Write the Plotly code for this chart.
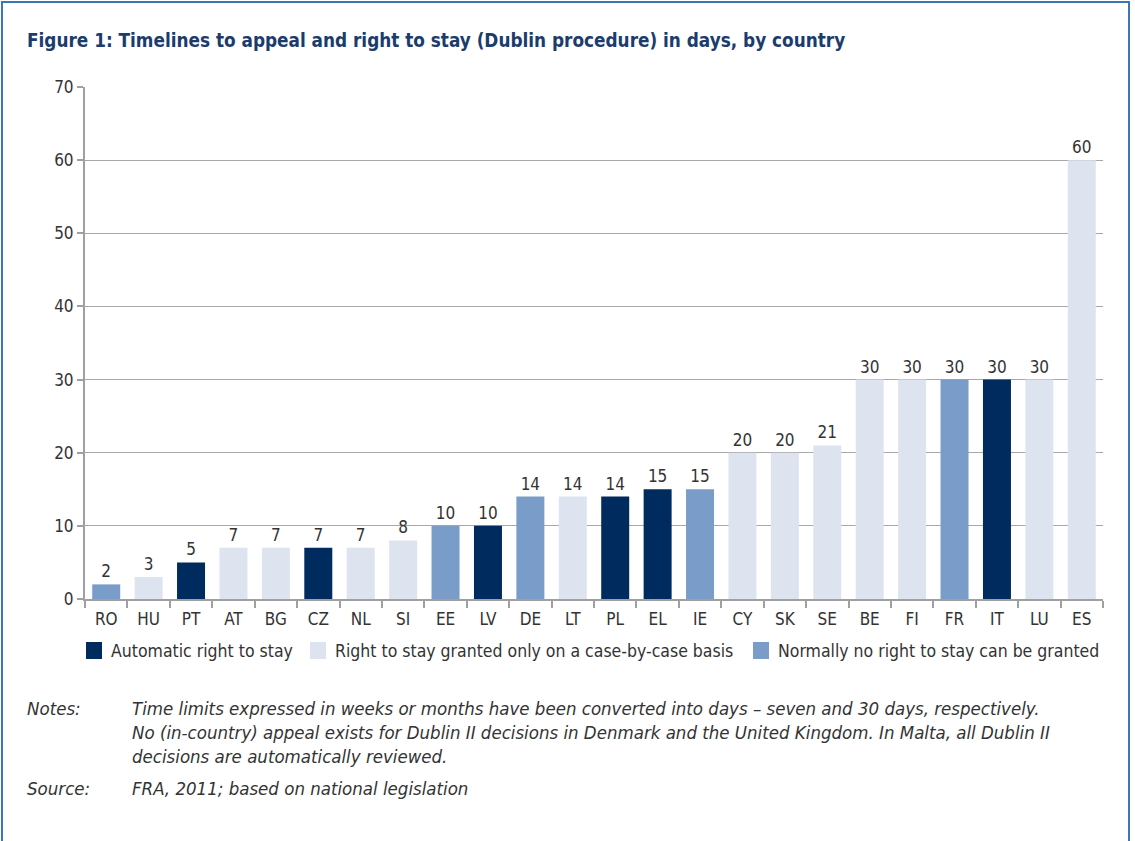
import plotly.graph_objects as go

countries = ["RO", "HU", "PT", "AT", "BG", "CZ", "NL", "SI", "EE", "LV", "DE", "LT",
             "PL", "EL", "IE", "CY", "SK", "SE", "BE", "FI", "FR", "IT", "LU", "ES"]
days = [2, 3, 5, 7, 7, 7, 7, 8, 10, 10, 14, 14, 14, 15, 15, 20, 20, 21, 30, 30, 30, 30, 30, 60]
group = ["N", "C", "A", "C", "C", "A", "C", "C", "N", "A", "N", "C",
         "A", "A", "N", "C", "C", "C", "C", "C", "N", "A", "C", "C"]

series_keys = ["A", "C", "N"]
series_names = {
    "A": "Automatic right to stay",
    "C": "Right to stay granted only on a case-by-case basis",
    "N": "Normally no right to stay can be granted",
}
series_colors = {"A": "#002b5f", "C": "#dde4f0", "N": "#7a9cc9"}

FONT = "Liberation Sans Narrow, DejaVu Sans Condensed, Liberation Sans, sans-serif"
TXT = "#333333"

fig = go.Figure()
for key in series_keys:
    xs = [c for c, g in zip(countries, group) if g == key]
    ys = [d for d, g in zip(days, group) if g == key]
    fig.add_trace(go.Bar(
        x=xs, y=ys, name=series_names[key],
        marker=dict(color=series_colors[key], line=dict(width=0)),
        text=[str(v) for v in ys], textposition="outside",
        textfont=dict(size=17, color=TXT, family=FONT),
        cliponaxis=False, showlegend=False,
    ))

# pixel helpers for placing things outside the plot area
L, R, T, B = 85, 32, 87, 242
W, H = 1135, 841
pw, ph = W - L - R, H - T - B
def px(x):
    return (x - L) / pw
def py(y):
    return (H - B - y) / ph

fig.update_layout(
    width=W, height=H,
    margin=dict(l=L, r=R, t=T, b=B),
    paper_bgcolor="white", plot_bgcolor="white",
    barmode="overlay", bargap=0.34,
    font=dict(family=FONT, size=17, color=TXT),
    showlegend=False,
    xaxis=dict(categoryorder="array", categoryarray=countries, tickson="boundaries",
               showline=True, linecolor="#a0a0a0", linewidth=2,
               ticks="outside", ticklen=7, tickcolor="#a0a0a0", tickwidth=2,
               ticklabelstandoff=4,
               tickfont=dict(size=17, color=TXT, family=FONT), showgrid=False),
    yaxis=dict(range=[0, 70], dtick=10, showline=True, linecolor="#a0a0a0", linewidth=2,
               ticks="outside", ticklen=6, tickcolor="#a0a0a0", tickwidth=2,
               showgrid=True, gridcolor="#a8a8a8", gridwidth=1, zeroline=False,
               tickfont=dict(size=17, color=TXT, family=FONT)),
)

# legend (drawn manually so it stays on one row like the original)
legend_square_x = {"A": 86, "C": 310, "N": 753}
for key in series_keys:
    x0 = legend_square_x[key]
    fig.add_shape(type="rect", xref="paper", yref="paper",
                  x0=px(x0), x1=px(x0 + 16), y0=py(659), y1=py(642),
                  line=dict(width=0), fillcolor=series_colors[key])
    fig.add_annotation(xref="paper", yref="paper", x=px(x0 + 23), y=py(651),
                       xanchor="left", yanchor="middle", text=series_names[key],
                       showarrow=False, font=dict(size=17.5, color=TXT, family=FONT))

fig.add_shape(type="rect", xref="paper", yref="paper",
              x0=px(2), x1=px(1129), y0=py(860), y1=py(2),
              line=dict(color="#3a77b4", width=2), fillcolor="rgba(0,0,0,0)")

fig.add_annotation(xref="paper", yref="paper", x=px(25), y=py(40), xanchor="left", yanchor="middle",
                   text="<b>Figure 1: Timelines to appeal and right to stay (Dublin procedure) in days, by country</b>",
                   showarrow=False, font=dict(size=18.8, color="#1b3c6c", family=FONT))

notes_lines = [
    "Time limits expressed in weeks or months have been converted into days \u2013 seven and 30 days, respectively.",
    "No (in-country) appeal exists for Dublin II decisions in Denmark and the United Kingdom. In Malta, all Dublin II",
    "decisions are automatically reviewed.",
]
NOTE_SIZE = 18.5
for i, line in enumerate(notes_lines):
    fig.add_annotation(xref="paper", yref="paper", x=px(130), y=py(708 + 24 * i), xanchor="left",
                       yanchor="middle", text="<i>" + line + "</i>", showarrow=False,
                       font=dict(size=NOTE_SIZE, color=TXT, family=FONT))
fig.add_annotation(xref="paper", yref="paper", x=px(25), y=py(708), xanchor="left", yanchor="middle",
                   text="<i>Notes:</i>", showarrow=False, font=dict(size=NOTE_SIZE, color=TXT, family=FONT))
fig.add_annotation(xref="paper", yref="paper", x=px(25), y=py(788), xanchor="left", yanchor="middle",
                   text="<i>Source:</i>", showarrow=False, font=dict(size=NOTE_SIZE, color=TXT, family=FONT))
fig.add_annotation(xref="paper", yref="paper", x=px(130), y=py(788), xanchor="left", yanchor="middle",
                   text="<i>FRA, 2011; based on national legislation</i>", showarrow=False,
                   font=dict(size=NOTE_SIZE, color=TXT, family=FONT))

fig.write_html("out.html", config={"displayModeBar": False},
               post_script="document.body.style.margin='0';document.body.style.overflow='hidden';")
